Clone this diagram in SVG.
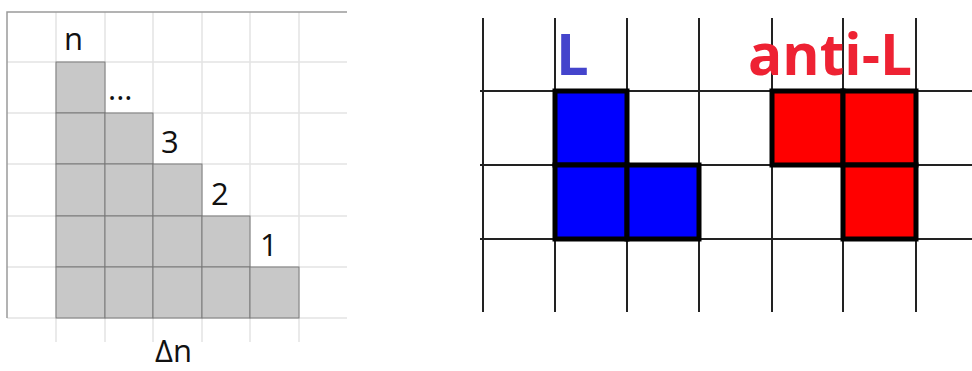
<svg xmlns="http://www.w3.org/2000/svg" width="972" height="371" viewBox="0 0 972 371">
<style>
.lg{stroke:#e4e4e4;stroke-width:1.5;fill:none}
.gc{fill:#c8c8c8;stroke:#7a7a7a;stroke-width:1}
.lbl{font-family:"Open Sans","Liberation Sans",sans-serif;font-size:31px;fill:#111}
.rg{stroke:#222;stroke-width:2;fill:none}
.blk{stroke:#000;stroke-width:5;stroke-linejoin:miter}
.big{font-family:"Open Sans","Liberation Sans",sans-serif;font-weight:bold;font-size:58px}
</style>
<rect width="972" height="371" fill="#fff"/>
<g id="left-grid">
<path class="lg" d="M56 12V342M105 12V342M153 12V342M202 12V342M250 12V342M299 12V342M7 62H347M7 113H347M7 164H347M7 216H347M7 267H347M7 318H347"/>
<path d="M7 318V12H347" stroke="#9a9a9a" stroke-width="1.5" fill="none"/>
</g>
<g id="staircase">
<rect class="gc" x="56" y="62" width="49" height="51"/>
<rect class="gc" x="56" y="113" width="49" height="51"/>
<rect class="gc" x="56" y="164" width="49" height="52"/>
<rect class="gc" x="56" y="216" width="49" height="51"/>
<rect class="gc" x="56" y="267" width="49" height="51"/>
<rect class="gc" x="105" y="113" width="48" height="51"/>
<rect class="gc" x="105" y="164" width="48" height="52"/>
<rect class="gc" x="105" y="216" width="48" height="51"/>
<rect class="gc" x="105" y="267" width="48" height="51"/>
<rect class="gc" x="153" y="164" width="49" height="52"/>
<rect class="gc" x="153" y="216" width="49" height="51"/>
<rect class="gc" x="153" y="267" width="49" height="51"/>
<rect class="gc" x="202" y="216" width="48" height="51"/>
<rect class="gc" x="202" y="267" width="48" height="51"/>
<rect class="gc" x="250" y="267" width="49" height="51"/>
</g>
<g id="left-labels">
<text class="lbl" x="64" y="50">n</text>
<text class="lbl" x="108" y="100">...</text>
<text class="lbl" x="161" y="153">3</text>
<text class="lbl" x="211" y="205">2</text>
<text class="lbl" x="260" y="256">1</text>
<text class="lbl" x="155" y="362" font-size="26">Δn</text>
</g>
<g id="right-grid">
<path class="rg" d="M483 18V312M555 18V312M627 18V312M699 18V312M772 18V312M843 18V312M916 18V312M480 91H972M480 165H972M480 239H972"/>
</g>
<g id="L-piece">
<rect class="blk" x="555" y="91" width="72" height="74" fill="#0000ff"/>
<rect class="blk" x="555" y="165" width="72" height="74" fill="#0000ff"/>
<rect class="blk" x="627" y="165" width="72" height="74" fill="#0000ff"/>
<text class="big" x="556" y="75" fill="#4444cc">L</text>
</g>
<g id="anti-L-piece">
<rect class="blk" x="772" y="91" width="71" height="74" fill="#ff0000"/>
<rect class="blk" x="843" y="91" width="73" height="74" fill="#ff0000"/>
<rect class="blk" x="843" y="165" width="73" height="74" fill="#ff0000"/>
<text class="big" x="748" y="75" fill="#ee2233" textLength="164" lengthAdjust="spacingAndGlyphs">anti-L</text>
</g>
</svg>
